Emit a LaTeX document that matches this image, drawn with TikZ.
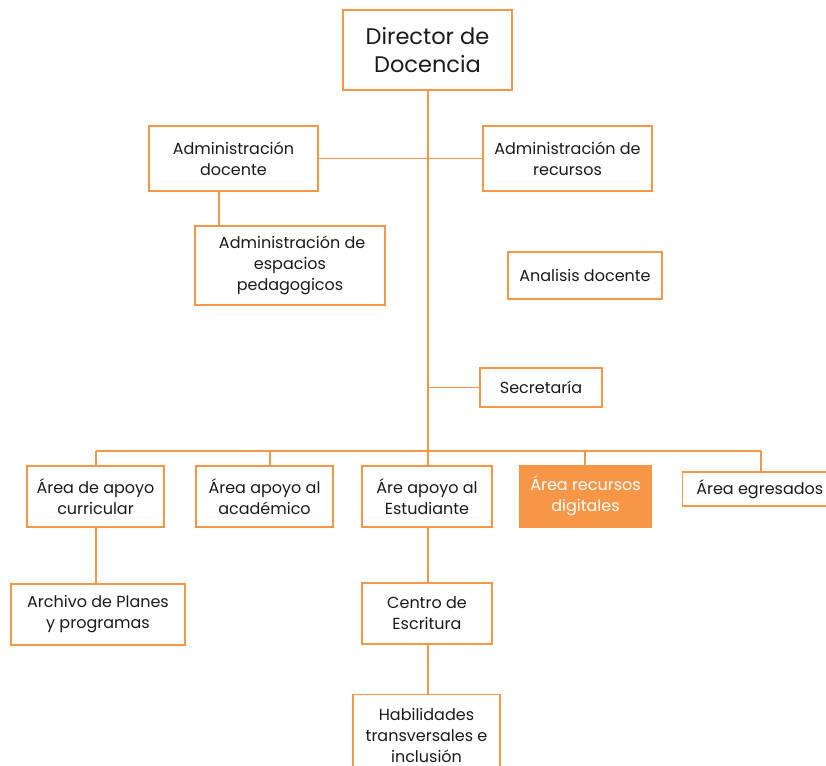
\documentclass[tikz,border=0pt]{standalone}
\usepackage{fontspec}
\setmainfont{Poppins}
\definecolor{org}{HTML}{F79646}
\definecolor{txt}{HTML}{1A1A1A}
\tikzset{
  box/.style={draw=org, line width=1.3pt, fill=white, align=center, inner sep=0pt, text=txt,
    font=\fontsize{16}{21}\selectfont},
  fillbox/.style={box, fill=org, text=white},
  conn/.style={draw=org, line width=1.3pt}
}
\begin{document}
\begin{tikzpicture}[x=1pt,y=-1pt]
\useasboundingbox (0,0) rectangle (826,765);
\clip (0,0) rectangle (826,765);
% coordinates for connectors
\coordinate (bus0) at (428,451);
\coordinate (b1) at (96,451);
\coordinate (b2) at (270,451);
\coordinate (b4) at (585,451);
\coordinate (b5) at (761,451);
\coordinate (dA) at (219,191);
% nodes
\node[box, minimum width=169, minimum height=80, font=\fontsize{22.5}{28.5}\selectfont] (dir) at (427.5,50) {Director de\\ Docencia};
\node[box, minimum width=169, minimum height=65] (admdoc) at (233.5,158.5) {Administración\\docente};
\node[box, minimum width=169, minimum height=65] (admrec) at (567.5,158.5) {Administración de\\recursos};
\node[box, minimum width=190, minimum height=79] (esp) at (290,265.5) {\ Administración de\\espacios\\pedagogicos};
\node[box, minimum width=154, minimum height=47] (anal) at (585,275.5) {Analisis docente};
\node[box, minimum width=122, minimum height=39] (sec) at (541,387.5) {Secretaría};
\node[box, minimum width=137, minimum height=61] (curr) at (95.5,496.5) {Área de apoyo\\curricular};
\node[box, minimum width=137, minimum height=61] (acad) at (264.5,496.5) {Área apoyo al\\académico};
\node[box, minimum width=130, minimum height=61] (est) at (427,496.5) {Áre apoyo al\\Estudiante};
\node[fillbox, minimum width=131, minimum height=61] (dig) at (585.5,496.5) {\raisebox{-2pt}{\begin{tabular}{@{}c@{}}Área recursos\\[-0.5pt]digitales\end{tabular}}};
\node[box, minimum width=150, minimum height=34, anchor=west] (egr) at (682,489) {\ Área egresados};
\node[box, minimum width=174, minimum height=61] (arch) at (98,614.5) {Archivo de Planes\\y programas};
\node[box, minimum width=130, minimum height=61] (centro) at (427,613.5) {Centro de\\Escritura};
\node[box, minimum width=147, minimum height=81] (hab) at (426.5,735) {Habilidades\\transversales e\\inclusión};
% connectors
\draw[conn] (dir.south -| bus0) -- (est.north -| bus0);
\draw[conn] (admdoc.east) -- (admrec.west);
\draw[conn] (dA) -- (dA |- esp.north);
\draw[conn] (sec.west -| bus0) -- (sec.west);
\draw[conn] (b1) -- (b5);
\draw[conn] (b1) -- (b1 |- curr.north);
\draw[conn] (b2) -- (b2 |- acad.north);
\draw[conn] (b4) -- (b4 |- dig.north);
\draw[conn] (b5) -- (b5 |- egr.north);
\draw[conn] (curr.south -| b1) -- (arch.north -| b1);
\draw[conn] (est.south -| bus0) -- (centro.north -| bus0);
\draw[conn] (centro.south -| bus0) -- (hab.north -| bus0);
\end{tikzpicture}
\end{document}
